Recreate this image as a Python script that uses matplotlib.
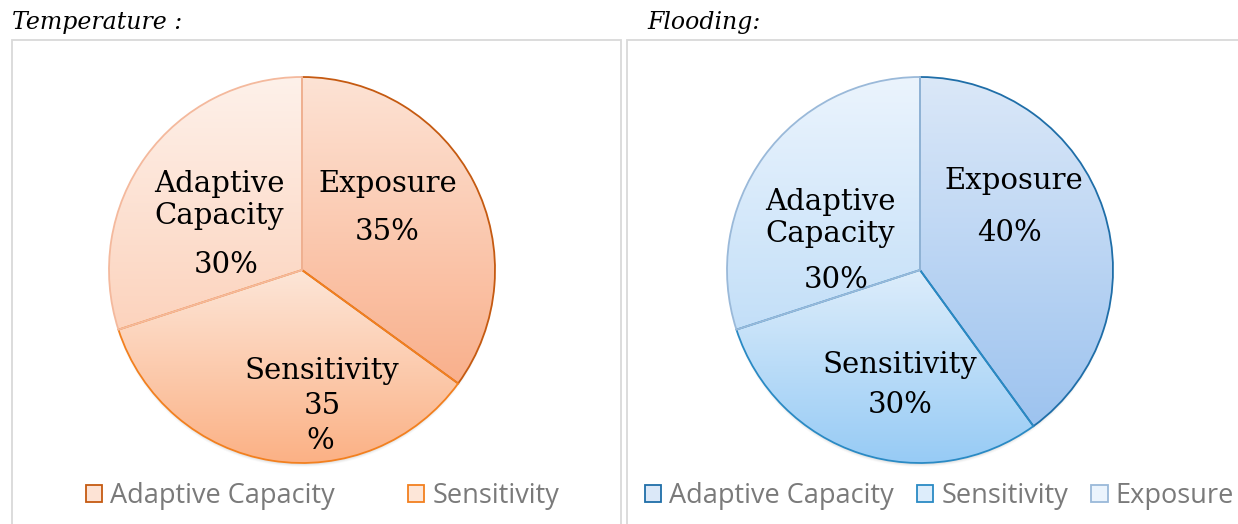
import matplotlib
import matplotlib.pyplot as plt
import numpy as np
from matplotlib.colors import LinearSegmentedColormap
from matplotlib.patches import Ellipse, Patch, Rectangle

matplotlib.use("Agg")

# slice values, clockwise from 12 o'clock, with the text written on each slice
temp_labels = ["Exposure", "Sensitivity", "Adaptive\nCapacity"]
temp_values = [35, 35, 30]
flood_labels = ["Exposure", "Sensitivity", "Adaptive\nCapacity"]
flood_values = [40, 30, 30]

# legend entries of each panel (the temperature legend is clipped after two)
temp_legend = ["Adaptive Capacity", "Sensitivity"]
flood_legend = ["Adaptive Capacity", "Sensitivity", "Exposure"]

W, H = 1238, 524
SERIF = "DejaVu Serif"
SANS = "Open Sans"

# (top colour, bottom colour, edge colour) for each slice
TEMP_STYLE = [
    ("#fde3d5", "#f9b08c", "#c55a11"),
    ("#fde6d8", "#fbb185", "#f2801f"),
    ("#fef1ea", "#fcd3bd", "#f4b99d"),
]
FLOOD_STYLE = [
    ("#dbe8f8", "#9dc3ef", "#1f6ea8"),
    ("#ddedfb", "#97cbf5", "#2a8ac4"),
    ("#ebf4fd", "#c3dff8", "#9ab9d9"),
]


def px_axes(cx, cy, r):
    return [(cx - r) / W, (H - cy - r) / H, 2 * r / W, 2 * r / H]


def draw_pie(fig, cx, cy, r, values, styles, label_pos):
    ax = fig.add_axes(px_axes(cx, cy, r))
    # faint shadow under the pie
    for k, a in zip([1.0, 0.995, 0.99], [0.025, 0.035, 0.045]):
        sh = Ellipse((0, -0.02), 2 * k, 2 * k, color="#000000", alpha=a, lw=0, zorder=0)
        sh.set_clip_on(False)
        ax.add_patch(sh)
    wedges, _ = ax.pie(values, startangle=90, counterclock=False, radius=1.0,
                       wedgeprops=dict(linewidth=0, facecolor="none"))
    for w, (top, bot, edge) in zip(wedges, styles):
        ext = w.get_path().get_extents()
        cmap = LinearSegmentedColormap.from_list("g", [top, bot])
        grad = np.linspace(0, 1, 256).reshape(-1, 1)
        im = ax.imshow(grad, cmap=cmap, extent=[ext.x0, ext.x1, ext.y0, ext.y1],
                       origin="upper", aspect="auto", zorder=1)
        im.set_clip_path(w)
    for w, (top, bot, edge) in zip(wedges, styles):
        w.set_edgecolor(edge)
        w.set_linewidth(1.3)
        w.set_zorder(2)
        w.set_clip_on(False)
    for txt, (px, py) in label_pos:
        ax.text((px - cx) / r, (cy - py) / r, txt, ha="center", va="center",
                fontsize=21, family=SERIF, color="black", linespacing=1.2, zorder=3)
    ax.set_xlim(-1, 1)
    ax.set_ylim(-1, 1)
    ax.set_aspect("equal")
    ax.axis("off")
    return wedges


fig = plt.figure(figsize=(W / 100, H / 100), dpi=100)

# panel frames
fig.add_artist(Rectangle((12 / W, -0.01), 609 / W, (H - 40) / H + 0.01,
                         transform=fig.transFigure, fill=False, ec="#d9d9d9", lw=1.3))
fig.add_artist(Rectangle((627 / W, -0.01), 620 / W, (H - 40) / H + 0.01,
                         transform=fig.transFigure, fill=False, ec="#d9d9d9", lw=1.3))

fig.text(12 / W, 1 - 23 / H, "Temperature :", family=SERIF, style="italic",
         fontsize=17, va="center", ha="left")
fig.text(647 / W, 1 - 23 / H, "Flooding:", family=SERIF, style="italic",
         fontsize=17, va="center", ha="left")

temp_pos = [
    (temp_labels[0], (388, 184)),
    (f"{temp_values[0]}%", (387, 232)),
    (temp_labels[1], (322, 371)),
    (f"{temp_values[1]}", (322, 406)),
    ("%", (320, 441)),
    (temp_labels[2], (219, 200)),
    (f"{temp_values[2]}%", (226, 265)),
]
flood_pos = [
    (flood_labels[0], (1014, 181)),
    (f"{flood_values[0]}%", (1010, 233)),
    (flood_labels[1], (900, 365)),
    (f"{flood_values[1]}%", (900, 405)),
    (flood_labels[2], (830, 218)),
    (f"{flood_values[2]}%", (836, 280)),
]

draw_pie(fig, 302, 270, 193, temp_values, TEMP_STYLE, temp_pos)
draw_pie(fig, 920, 270, 193, flood_values, FLOOD_STYLE, flood_pos)


def legend_handles(styles, names):
    return [Patch(facecolor=s[0], edgecolor=s[2], lw=1.3, label=n) for s, n in zip(styles, names)]


leg_kw = dict(frameon=False, handlelength=0.6, handleheight=0.6,
              handletextpad=0.3, borderaxespad=0, labelcolor="#7a7a7a",
              prop=dict(family=SANS, size=19.5))
fig.legend(handles=legend_handles(TEMP_STYLE, temp_legend), ncol=2,
           loc="center left", bbox_to_anchor=(75 / W, 1 - 496 / H), columnspacing=2.7, **leg_kw)
fig.legend(handles=legend_handles(FLOOD_STYLE, flood_legend), ncol=3,
           loc="center left", bbox_to_anchor=(634 / W, 1 - 496 / H), columnspacing=0.85, **leg_kw)

fig.savefig("out.png", dpi=100)
